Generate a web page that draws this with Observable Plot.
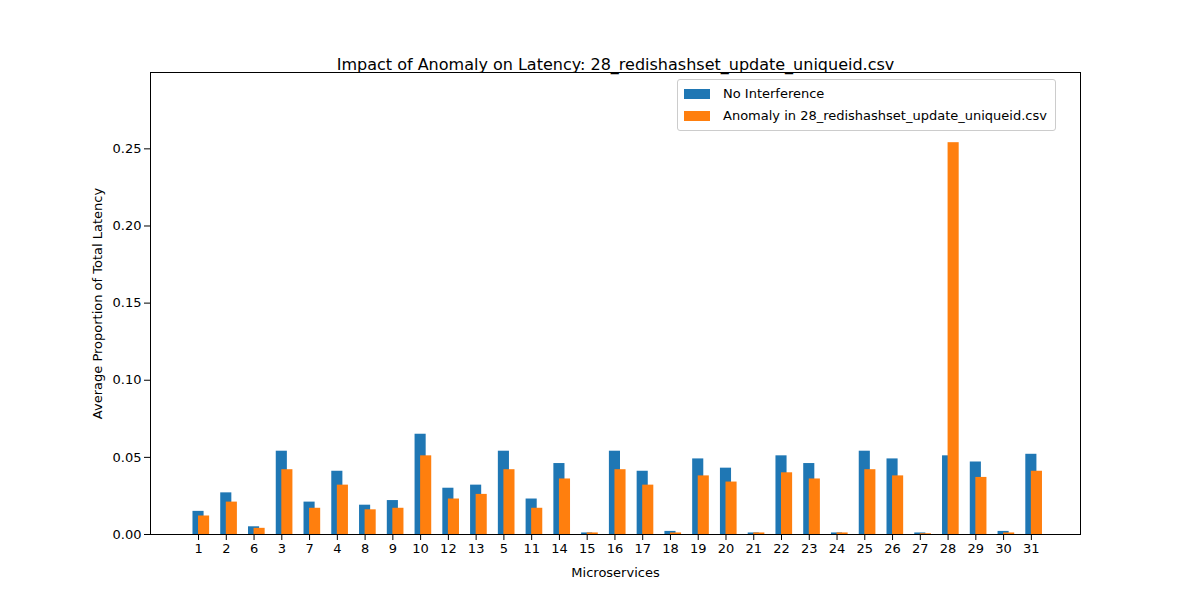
<!DOCTYPE html>
<html>
<head>
<meta charset="utf-8">
<script src="https://cdn.jsdelivr.net/npm/d3@7"></script>
<script src="https://cdn.jsdelivr.net/npm/@observablehq/plot@0.6"></script>
<style>
  body { margin: 0; background: #fff; font-family: "DejaVu Sans", sans-serif; }
  #wrap { position: relative; width: 1200px; height: 600px; }
  #legend { position: absolute; left: 677px; top: 79px; border: 1px solid #ccc; border-radius: 3px;
    background: #fff; padding: 3px 8px 3px 6px; font-size: 13px; line-height: 22px; }
  .sw { display: inline-block; width: 26px; height: 10px; margin-right: 13px; vertical-align: -1px; }
</style>
</head>
<body>
<div id="wrap">
  <div id="chart"></div>
  <div id="legend">
    <div><span class="sw" style="background:#1f77b4"></span>No Interference</div>
    <div><span class="sw" style="background:#ff7f0e"></span>Anomaly in 28_redishashset_update_uniqueid.csv</div>
  </div>
</div>
<script>
// Microservice labels in plotted order
const services = ['1','2','6','3','7','4','8','9','10','12','13','5','11','14','15','16','17','18','19','20','21','22','23','24','25','26','27','28','29','30','31'];
const noInterference = [0.015,0.027,0.005,0.054,0.021,0.041,0.019,0.022,0.065,0.030,0.032,0.054,0.023,0.046,0.001,0.054,0.041,0.002,0.049,0.043,0.001,0.051,0.046,0.001,0.054,0.049,0.001,0.051,0.047,0.002,0.052];
const anomaly = [0.012,0.021,0.004,0.042,0.017,0.032,0.016,0.017,0.051,0.023,0.026,0.042,0.017,0.036,0.001,0.042,0.032,0.001,0.038,0.034,0.001,0.040,0.036,0.001,0.042,0.038,0.0005,0.254,0.037,0.001,0.041];

const blue = services.map((s, i) => ({i, v: noInterference[i]}));
const orange = services.map((s, i) => ({i, v: anomaly[i]}));

const chart = Plot.plot({
  width: 1200,
  height: 600,
  marginLeft: 150, marginRight: 120, marginTop: 72, marginBottom: 66,
  style: {fontSize: "13px", fontFamily: "DejaVu Sans, sans-serif", color: "#000"},
  x: {domain: [-1.73, 31.77], ticks: d3.range(services.length), tickFormat: i => services[i],
      label: "Microservices", labelAnchor: "center", labelArrow: "none", labelOffset: 42},
  y: {domain: [0, 0.2995], ticks: d3.range(0, 0.26, 0.05), tickFormat: ".2f",
      label: "Average Proportion of Total Latency", labelAnchor: "center", labelArrow: "none", labelOffset: 58},
  marks: [
    Plot.rectY(blue, {x1: d => d.i - 0.2, x2: d => d.i + 0.2, y: "v", fill: "#1f77b4"}),
    Plot.rectY(orange, {x1: d => d.i, x2: d => d.i + 0.4, y: "v", fill: "#ff7f0e"}),
    Plot.frame({stroke: "#000"}),
    Plot.text(["Impact of Anomaly on Latency: 28_redishashset_update_uniqueid.csv"],
      {frameAnchor: "top", dy: -14, fontSize: 16, fill: "#000"})
  ]
});
document.getElementById("chart").append(chart);
</script>
</body>
</html>
